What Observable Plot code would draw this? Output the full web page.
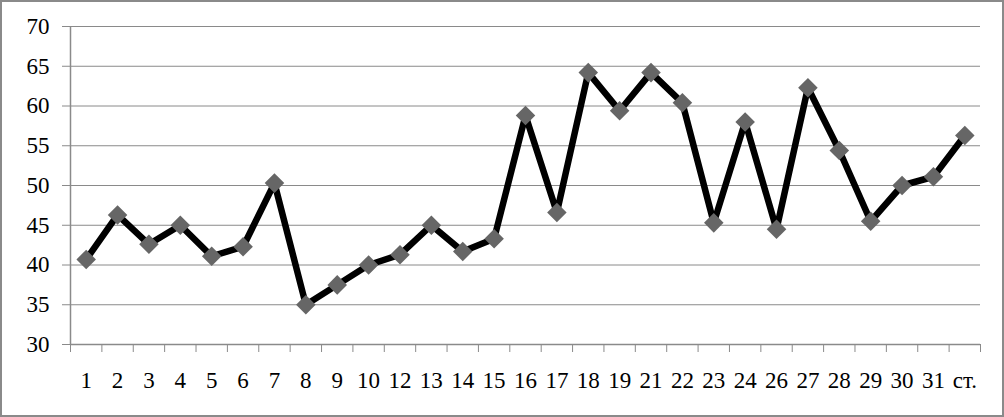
<!DOCTYPE html>
<html>
<head>
<meta charset="utf-8">
<script src="https://cdn.jsdelivr.net/npm/d3@7"></script>
<script src="https://cdn.jsdelivr.net/npm/@observablehq/plot@0.6"></script>
<style>
  html, body { margin: 0; padding: 0; background: #fff; }
  #chart svg { display: block; outline: 2px solid #8a8a8a; outline-offset: -2px; }
</style>
</head>
<body>
<div id="chart"></div>
<script>
const categories = ["1","2","3","4","5","6","7","8","9","10","12","13","14","15","16","17","18","19","21","22","23","24","26","27","28","29","30","31","ст."];
const values = [40.7, 46.3, 42.6, 45.0, 41.1, 42.3, 50.3, 35.0, 37.5, 40.0, 41.3, 45.0, 41.7, 43.3, 58.8, 46.6, 64.2, 59.4, 64.2, 60.4, 45.3, 58.0, 44.5, 62.3, 54.4, 45.5, 50.0, 51.1, 56.3];
const yTicks = [30, 35, 40, 45, 50, 55, 60, 65, 70];

const data = categories.map((c, i) => ({pos: i + 0.5, label: c, value: values[i]}));
const boundaries = d3.range(categories.length + 1);

const plot = Plot.plot({
  width: 1004,
  height: 417,
  marginLeft: 70,
  marginRight: 24,
  marginTop: 26,
  marginBottom: 73,
  style: {fontFamily: "'Liberation Serif', 'Times New Roman', serif", fontSize: "23px", color: "#000", background: "#fff"},
  x: {type: "linear", domain: [0, categories.length]},
  y: {domain: [30, 70]},
  marks: [
    Plot.gridY(yTicks, {stroke: "#8a8a8a", strokeOpacity: 1, strokeWidth: 1}),
    Plot.axisY(yTicks, {tickSize: 8, tickPadding: 13, stroke: "#8a8a8a", fill: "#000", fontSize: 23, label: null}),
    Plot.ruleX([0], {stroke: "#8a8a8a", strokeWidth: 1.5}),
    Plot.ruleY([30], {stroke: "#8a8a8a", strokeWidth: 1.5}),
    Plot.axisX(boundaries, {tickSize: 8, stroke: "#8a8a8a", tickFormat: () => "", label: null}),
    Plot.axisX(data.map(d => d.pos), {tickSize: 0, tickPadding: 27, tickFormat: (v) => categories[Math.round(v - 0.5)], fill: "#000", fontSize: 23, label: null}),
    Plot.line(data, {x: "pos", y: "value", stroke: "#000", strokeWidth: 6.5, strokeLinejoin: "miter"}),
    Plot.dot(data, {x: "pos", y: "value", symbol: "diamond2", r: 8.8, fill: "#666", stroke: "none"})
  ]
});
plot.querySelectorAll("text").forEach(t => { t.style.fontSize = "23px"; t.style.fontFamily = "'Liberation Serif', serif"; });
document.getElementById("chart").append(plot);
</script>
</body>
</html>
